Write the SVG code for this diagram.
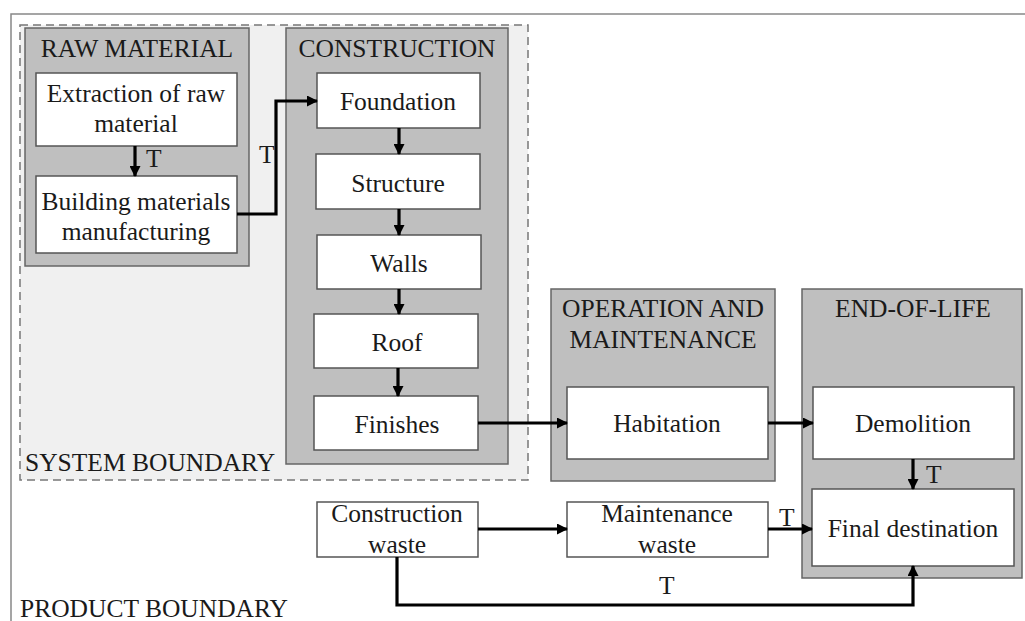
<svg xmlns="http://www.w3.org/2000/svg" width="1025" height="621" viewBox="0 0 1025 621" font-family="'Liberation Serif', 'DejaVu Serif', serif">
<style>
text{font-family:'Liberation Serif','DejaVu Serif',serif;font-size:25.5px;fill:#1a1a1a}
.c{text-anchor:middle}
.grp{fill:#bfbfbf;stroke:#666;stroke-width:1.5}
.box{fill:#fff;stroke:#555;stroke-width:1.5}
.ln{fill:none;stroke:#000;stroke-width:3.2}
</style>
<defs>
<marker id="ah" markerWidth="11" markerHeight="11" refX="10" refY="5.5" orient="auto" markerUnits="userSpaceOnUse">
<path d="M0,0 L11,5.5 L0,11 Z" fill="#000"/>
</marker>
</defs>
<rect width="1025" height="621" fill="#fff"/>
<g id="product-boundary">
<path d="M1025,14 H11 V621" fill="none" stroke="#888" stroke-width="1.5"/>
<text x="20" y="617">PRODUCT BOUNDARY</text>
</g>
<g id="system-boundary">
<rect x="20" y="25" width="508" height="455" fill="#f0f0f0" stroke="#777" stroke-width="1.5" stroke-dasharray="8,5"/>
<text x="25" y="471">SYSTEM BOUNDARY</text>
</g>
<g id="raw-material">
<rect class="grp" x="25" y="28" width="224" height="238"/>
<text class="c" x="137" y="57">RAW MATERIAL</text>
</g>
<g id="extraction">
<rect class="box" x="36" y="73" width="201" height="73"/>
<text class="c" x="136" y="102">Extraction of raw</text>
<text class="c" x="136" y="132">material</text>
</g>
<g id="manufacturing">
<rect class="box" x="36" y="176" width="201" height="77"/>
<text class="c" x="136" y="210">Building materials</text>
<text class="c" x="136" y="240">manufacturing</text>
</g>
<g id="construction">
<rect class="grp" x="286" y="28" width="222" height="436"/>
<text class="c" x="397" y="57">CONSTRUCTION</text>
</g>
<g id="foundation">
<rect class="box" x="317" y="73" width="163" height="55"/>
<text class="c" x="398" y="110">Foundation</text>
</g>
<g id="structure">
<rect class="box" x="316" y="154" width="164" height="55"/>
<text class="c" x="398" y="192">Structure</text>
</g>
<g id="walls">
<rect class="box" x="317" y="235" width="164" height="54"/>
<text class="c" x="399" y="272">Walls</text>
</g>
<g id="roof">
<rect class="box" x="314" y="314" width="164" height="54"/>
<text class="c" x="397" y="351">Roof</text>
</g>
<g id="finishes">
<rect class="box" x="314" y="396" width="164" height="54"/>
<text class="c" x="397" y="433">Finishes</text>
</g>
<g id="operation">
<rect class="grp" x="551" y="289" width="224" height="192"/>
<text class="c" x="663" y="317">OPERATION AND</text>
<text class="c" x="663" y="348">MAINTENANCE</text>
</g>
<g id="habitation">
<rect class="box" x="567" y="387" width="201" height="72"/>
<text class="c" x="667" y="432">Habitation</text>
</g>
<g id="end-of-life">
<rect class="grp" x="802" y="289" width="220" height="289"/>
<text class="c" x="913" y="317">END-OF-LIFE</text>
</g>
<g id="demolition">
<rect class="box" x="813" y="387" width="201" height="72"/>
<text class="c" x="913" y="432">Demolition</text>
</g>
<g id="final-destination">
<rect class="box" x="812" y="489" width="202" height="77"/>
<text class="c" x="913" y="537">Final destination</text>
</g>
<g id="construction-waste">
<rect class="box" x="317" y="502" width="161" height="55"/>
<text class="c" x="397" y="522">Construction</text>
<text class="c" x="397" y="553">waste</text>
</g>
<g id="maintenance-waste">
<rect class="box" x="567" y="502" width="201" height="55"/>
<text class="c" x="667" y="522">Maintenance</text>
<text class="c" x="667" y="553">waste</text>
</g>
<g id="connectors">
<path class="ln" d="M135,146 V176" marker-end="url(#ah)"/>
<path class="ln" d="M237,214 H276 V101 H317" marker-end="url(#ah)"/>
<path class="ln" d="M399,128 V154" marker-end="url(#ah)"/>
<path class="ln" d="M399,209 V235" marker-end="url(#ah)"/>
<path class="ln" d="M399,289 V314" marker-end="url(#ah)"/>
<path class="ln" d="M398,368 V396" marker-end="url(#ah)"/>
<path class="ln" d="M478,423 H567" marker-end="url(#ah)"/>
<path class="ln" d="M768,423 H813" marker-end="url(#ah)"/>
<path class="ln" d="M913,459 V489" marker-end="url(#ah)"/>
<path class="ln" d="M478,529 H567" marker-end="url(#ah)"/>
<path class="ln" d="M768,529 H812" marker-end="url(#ah)"/>
<path class="ln" d="M397,557 V605 H913 V566" marker-end="url(#ah)"/>
<text x="146" y="167">T</text>
<text x="259" y="163">T</text>
<text x="926" y="483">T</text>
<text x="779" y="526">T</text>
<text x="659" y="594">T</text>
</g>
</svg>
